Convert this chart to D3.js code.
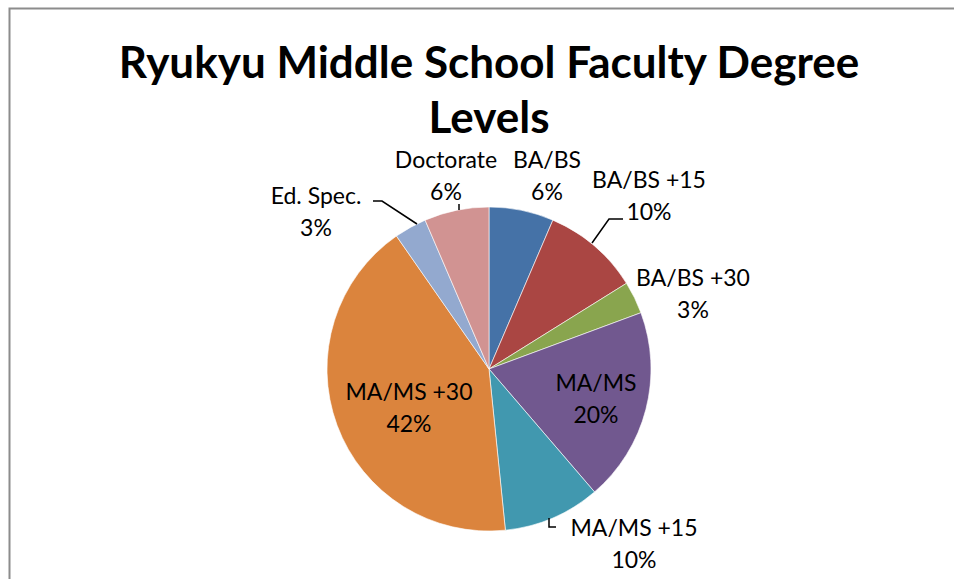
<!DOCTYPE html>
<html>
<head>
<meta charset="utf-8">
<script src="https://cdn.jsdelivr.net/npm/d3@7"></script>
<style>
  body { margin: 0; background: #fff; }
  svg { display: block; }
  text { font-family: Lato, "Noto Sans", sans-serif; fill: #000; }
</style>
</head>
<body>
<div id="chart"></div>
<script>
// faculty counts per degree level (31 staff)
var categories = ["BA/BS", "BA/BS +15", "BA/BS +30", "MA/MS", "MA/MS +15", "MA/MS +30", "Ed. Spec.", "Doctorate"];
var counts = [2, 3, 1, 6, 3, 13, 1, 2];
var percentLabels = ["6%", "10%", "3%", "20%", "10%", "42%", "3%", "6%"];
var colors = ["#4572A7", "#AA4643", "#89A54E", "#71588F", "#4198AF", "#DB843D", "#93A9CF", "#D19392"];
var titleLines = ["Ryukyu Middle School Faculty Degree", "Levels"];

var width = 954, height = 579;
var center = {x: 489, y: 369};
var radius = 162;

// label anchors relative to pie center (first line baseline)
var labelSpecs = {
    "BA/BS": {dx: 58, dy: -201},
    "BA/BS +15": {dx: 160, dy: -181},
    "BA/BS +30": {dx: 204, dy: -83},
    "MA/MS": {dx: 107, dy: 22},
    "MA/MS +15": {dx: 145, dy: 167},
    "MA/MS +30": {dx: -80, dy: 31},
    "Ed. Spec.": {dx: -173, dy: -165},
    "Doctorate": {dx: -43, dy: -201}
};

// leader lines, points relative to pie center
var leaders = [
    [[-116, -168], [-107, -168], [-72, -145]],
    [[134, -150], [120, -150], [103, -126]],
    [[60, 149], [60, 158], [67, 158]],
    [[-30, -165], [-30, -159]]
];

var svg = d3.select("#chart").append("svg")
    .attr("width", width).attr("height", height);

// outer chart frame (cropped on the right and bottom)
svg.append("rect").attr("x", 9.5).attr("y", 8.5)
    .attr("width", width + 20).attr("height", height + 20)
    .attr("fill", "none").attr("stroke", "#8c8c8c").attr("stroke-width", 2);

var title = svg.append("text")
    .attr("x", 489).attr("y", 78)
    .attr("text-anchor", "middle")
    .style("font-weight", "bold").style("font-size", "44px");
title.selectAll("tspan").data(titleLines).enter().append("tspan")
    .attr("x", 489).attr("dy", function(d, i) { return i === 0 ? 0 : 55; })
    .text(function(d) { return d; });

var pie = d3.pie().sort(null).value(function(d) { return d; });
var arc = d3.arc().innerRadius(0).outerRadius(radius);

var g = svg.append("g").attr("transform", "translate(" + center.x + "," + center.y + ")");

g.selectAll("path.slice").data(pie(counts)).enter().append("path")
    .attr("class", "slice")
    .attr("d", arc)
    .attr("fill", function(d, i) { return colors[i]; })
    .attr("stroke", "#fff").attr("stroke-width", 0.6);

var line = d3.line();
g.selectAll("path.leader").data(leaders).enter().append("path")
    .attr("class", "leader")
    .attr("d", line)
    .attr("fill", "none").attr("stroke", "#000").attr("stroke-width", 1.5);

var labels = g.selectAll("text.lbl").data(categories).enter().append("text")
    .attr("class", "lbl")
    .attr("text-anchor", "middle")
    .style("font-size", "23px")
    .attr("transform", function(d) {
        var s = labelSpecs[d];
        return "translate(" + s.dx + "," + s.dy + ")";
    });
labels.append("tspan").attr("x", 0).attr("dy", 0).text(function(d) { return d; });
labels.append("tspan").attr("x", 0).attr("dy", 32).text(function(d, i) { return percentLabels[i]; });
</script>
</body>
</html>
